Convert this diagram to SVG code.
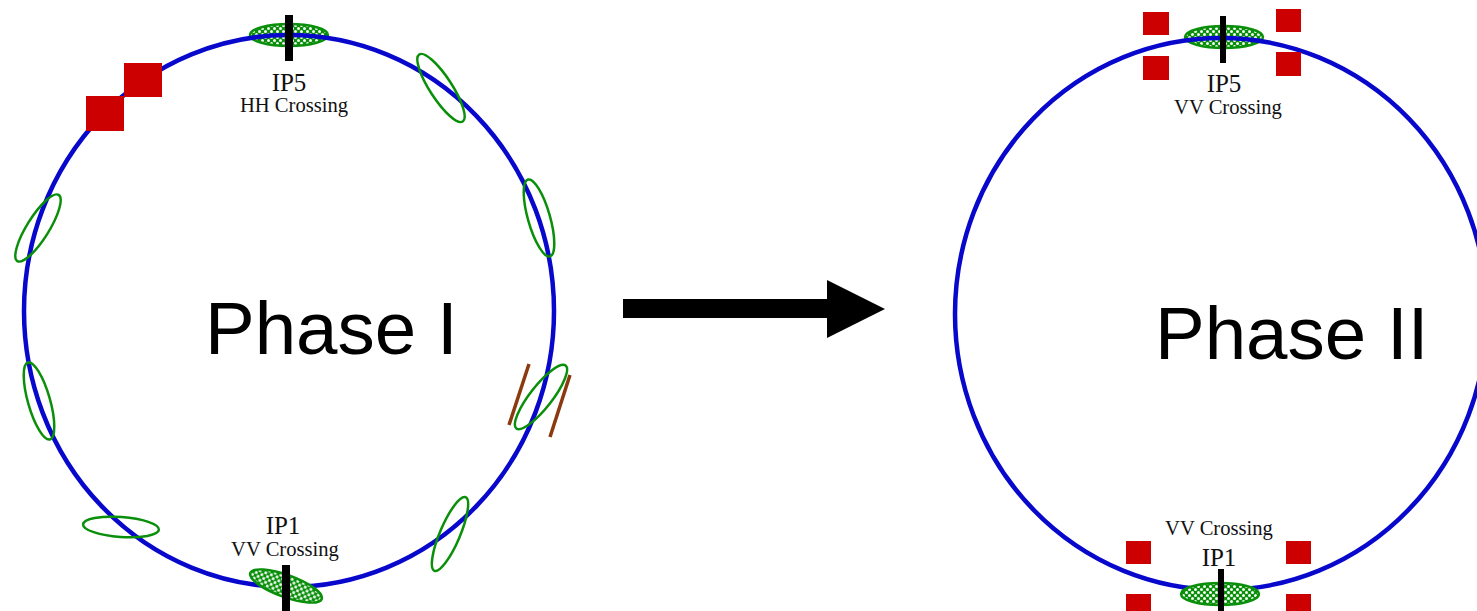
<svg xmlns="http://www.w3.org/2000/svg" width="1477" height="611" viewBox="0 0 1477 611">
<style>
.ring{fill:none;stroke:#0808cc;stroke-width:4.5}
.bunch{fill:none;stroke:#0a8f0a;stroke-width:2.5}
.ip{fill:url(#hatch);stroke:#0a8f0a;stroke-width:2.5}
.bar{stroke:#000;stroke-width:8}
.red{fill:#cc0000}
.brown{stroke:#8b3a10;stroke-width:3.5}
text{fill:#111}
.ipl{font:25px "Liberation Serif",serif;text-anchor:middle}
.cr{font:20.6px "Liberation Serif",serif;text-anchor:middle}
.ph{font:74.5px "Liberation Sans",Arial,sans-serif;fill:#000}
</style>
<defs>
<pattern id="hatch" width="6" height="6" patternUnits="userSpaceOnUse">
<rect width="6" height="6" fill="#0a8f0a"/>
<circle cx="1.5" cy="1.5" r="1.5" fill="#f4faf4"/>
<circle cx="4.5" cy="4.5" r="1.5" fill="#f4faf4"/>
</pattern>
</defs>
<rect width="1477" height="611" fill="#fff"/>
<g id="connectors">
<path d="M623 299H827V280L885 309L827 338V318H623Z" fill="#000"/>
</g>
<g id="phase1">
<ellipse class="ip" cx="289" cy="35" rx="39" ry="11"/>
<ellipse class="ring" cx="289" cy="311" rx="265" ry="276"/>
<ellipse class="ip" cx="286" cy="586" rx="38" ry="11" transform="rotate(20 286 586)"/>
<line class="bar" x1="289" y1="15" x2="289" y2="61"/>
<line class="bar" x1="286" y1="565" x2="286" y2="611"/>
<rect class="red" x="124" y="63" width="38" height="34"/>
<rect class="red" x="86" y="96" width="38" height="35"/>
<g class="bunch">
<ellipse cx="441" cy="88" rx="40" ry="11" transform="rotate(57 441 88)"/>
<ellipse cx="539" cy="218" rx="40" ry="11" transform="rotate(74 539 218)"/>
<ellipse cx="541" cy="397" rx="40" ry="11" transform="rotate(-52 541 397)"/>
<ellipse cx="450" cy="534" rx="40" ry="10" transform="rotate(-67 450 534)"/>
<ellipse cx="121" cy="527" rx="38" ry="10" transform="rotate(4 121 527)"/>
<ellipse cx="39" cy="401" rx="40" ry="11" transform="rotate(74 39 401)"/>
<ellipse cx="38" cy="228" rx="39" ry="11" transform="rotate(-58 38 228)"/>
</g>
<line class="brown" x1="529" y1="364" x2="509" y2="425"/>
<line class="brown" x1="570" y1="375" x2="550" y2="437"/>
</g>
<g id="ip5-left"><text class="ipl" x="289" y="91">IP5</text><text class="cr" x="294" y="112">HH Crossing</text></g>
<g id="ip1-left"><text class="ipl" x="283" y="534">IP1</text><text class="cr" x="285" y="556">VV Crossing</text></g>
<g id="phase-1-label"><text class="ph" x="205" y="354">Phase I</text></g>
<g id="phase2">
<ellipse class="ip" cx="1224" cy="37" rx="39" ry="11"/>
<ellipse class="ring" cx="1221" cy="314" rx="266" ry="276"/>
<ellipse class="ip" cx="1220" cy="594" rx="39" ry="11"/>
<line class="bar" x1="1223" y1="16" x2="1223" y2="63" style="stroke-width:6"/>
<line class="bar" x1="1221" y1="569" x2="1221" y2="611" style="stroke-width:6"/>
<rect class="red" x="1143" y="12" width="26" height="23"/>
<rect class="red" x="1143" y="56" width="26" height="24"/>
<rect class="red" x="1276" y="9" width="25" height="23"/>
<rect class="red" x="1276" y="52" width="25" height="24"/>
<rect class="red" x="1126" y="541" width="25" height="23"/>
<rect class="red" x="1126" y="594" width="25" height="17"/>
<rect class="red" x="1286" y="541" width="25" height="23"/>
<rect class="red" x="1286" y="594" width="25" height="17"/>
</g>
<g id="ip5-right"><text class="ipl" x="1224" y="92">IP5</text><text class="cr" x="1228" y="114">VV Crossing</text></g>
<g id="ip1-right"><text class="cr" x="1219" y="535">VV Crossing</text><text class="ipl" x="1219" y="566">IP1</text></g>
<g id="phase-2-label"><text class="ph" x="1155" y="359">Phase II</text></g>
</svg>
